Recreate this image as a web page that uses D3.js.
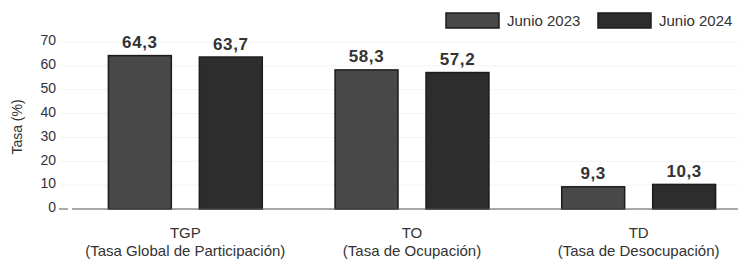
<!DOCTYPE html>
<html>
<head>
<meta charset="utf-8">
<script src="https://cdn.jsdelivr.net/npm/d3@7"></script>
<style>
  body { margin: 0; background: #fff; }
  svg { font-family: "Liberation Sans", Arial, sans-serif; display: block; }
</style>
</head>
<body>
<div id="chart"></div>
<script>
// categories and series
var categories = ["TGP", "TO", "TD"];
var categoryNames = ["(Tasa Global de Participación)", "(Tasa de Ocupación)", "(Tasa de Desocupación)"];
var seriesNames = ["Junio 2023", "Junio 2024"];
var junio2023 = [64.3, 58.3, 9.3];
var junio2024 = [63.7, 57.2, 10.3];
var yTicks = [0, 10, 20, 30, 40, 50, 60, 70];

var colors = ["#484848", "#2d2d2d"];
var W = 738, H = 260;

var svg = d3.select("#chart").append("svg")
    .attr("width", W)
    .attr("height", H);

var x0 = d3.scaleBand()
    .domain(categories)
    .range([72, 752])
    .padding(0);

var x1 = d3.scaleBand()
    .domain(seriesNames)
    .range([0, x0.bandwidth()])
    .paddingInner(0.308)
    .paddingOuter(0.4);

var y = d3.scaleLinear()
    .domain([0, 70])
    .range([209, 42]);

// faint gridlines
svg.append("g")
  .selectAll("line")
  .data(yTicks.slice(1))
  .enter().append("line")
    .attr("x1", 60).attr("x2", W)
    .attr("y1", function(d){ return y(d); })
    .attr("y2", function(d){ return y(d); })
    .attr("stroke", "#f3f3f3");

// y axis labels, no domain line
var yAxis = svg.append("g")
    .attr("transform", "translate(67,0)")
    .call(d3.axisLeft(y).tickValues(yTicks).tickSize(0).tickPadding(11));
yAxis.select(".domain").remove();
yAxis.selectAll("text")
    .attr("font-size", 14)
    .attr("fill", "#333")
    .attr("font-family", "Liberation Sans, Arial, sans-serif")
    .attr("dy", "0.2em");

// small tick at zero
svg.append("line")
    .attr("x1", 59).attr("x2", 68)
    .attr("y1", y(0)).attr("y2", y(0))
    .attr("stroke", "#555");

// y title
svg.append("text")
    .attr("transform", "translate(22,127) rotate(-90)")
    .attr("text-anchor", "middle")
    .attr("font-size", 14)
    .attr("fill", "#333")
    .text("Tasa (%)");

// bars
var rows = categories.map(function(c, i){
  return { cat: c, vals: [junio2023[i], junio2024[i]] };
});

var groups = svg.selectAll("g.group")
  .data(rows)
  .enter().append("g")
    .attr("class", "group")
    .attr("transform", function(d){ return "translate(" + x0(d.cat) + ",0)"; });

groups.selectAll("rect")
  .data(function(d){ return d.vals.map(function(v, j){ return { s: seriesNames[j], v: v, j: j }; }); })
  .enter().append("rect")
    .attr("x", function(d){ return x1(d.s); })
    .attr("y", function(d){ return y(d.v); })
    .attr("width", x1.bandwidth())
    .attr("height", function(d){ return y(0) - y(d.v); })
    .attr("fill", function(d){ return colors[d.j]; })
    .attr("stroke", "#1c1c1c")
    .attr("stroke-width", 1.5);

groups.selectAll("text.val")
  .data(function(d){ return d.vals.map(function(v, j){ return { s: seriesNames[j], v: v }; }); })
  .enter().append("text")
    .attr("class", "val")
    .attr("x", function(d){ return x1(d.s) + x1.bandwidth() / 2; })
    .attr("y", function(d){ return y(d.v) - 7.5; })
    .attr("text-anchor", "middle")
    .attr("font-size", 17)
    .attr("letter-spacing", 0.6)
    .attr("font-weight", "bold")
    .attr("fill", "#333")
    .text(function(d){ return d3.format(".1f")(d.v).replace(".", ","); });

// x axis line
svg.append("line")
    .attr("x1", 72).attr("x2", W)
    .attr("y1", y(0)).attr("y2", y(0))
    .attr("stroke", "#555")
    .attr("stroke-width", 1.2);

// category labels
var catLabels = svg.append("g");
categories.forEach(function(c, i){
  var cx = x0(c) + x0.bandwidth() / 2;
  var t = catLabels.append("text")
      .attr("text-anchor", "middle")
      .attr("font-size", 15)
      .attr("fill", "#333");
  t.append("tspan").attr("x", cx).attr("y", 238).text(c);
  t.append("tspan").attr("x", cx).attr("y", 256).text(categoryNames[i]);
});

// legend
var legX = [446, 598];
var leg = svg.append("g");
seriesNames.forEach(function(s, i){
  leg.append("rect")
      .attr("x", legX[i]).attr("y", 13)
      .attr("width", 53).attr("height", 15)
      .attr("fill", colors[i])
      .attr("stroke", "#1c1c1c")
      .attr("stroke-width", 1.5);
  leg.append("text")
      .attr("x", legX[i] + 61).attr("y", 25.5)
      .attr("font-size", 15)
      .attr("fill", "#333")
      .text(s);
});
</script>
</body>
</html>
